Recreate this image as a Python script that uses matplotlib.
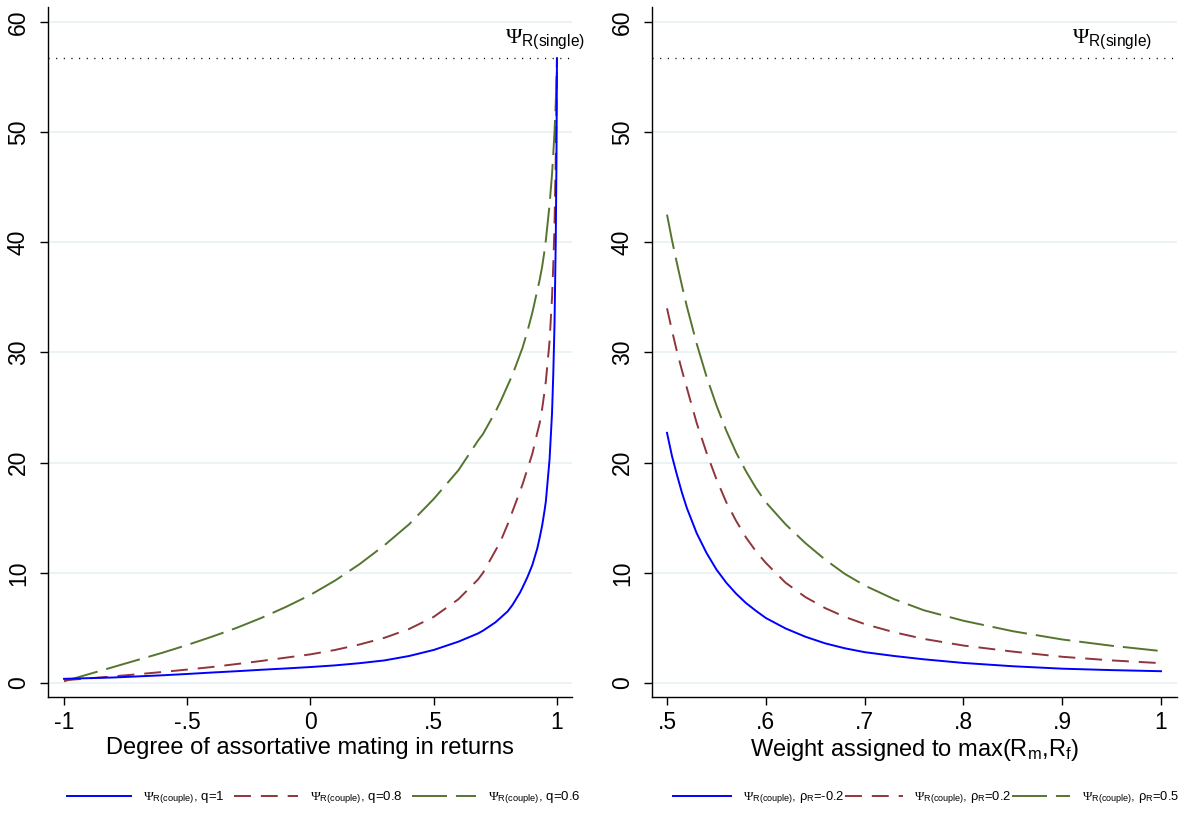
import matplotlib
matplotlib.use("Agg")
import matplotlib.pyplot as plt
from matplotlib.lines import Line2D

plt.rcParams.update({
    "font.family": ["Liberation Sans", "DejaVu Sans"],
    "mathtext.fontset": "custom",
    "mathtext.rm": "Liberation Serif",
    "mathtext.sf": "Liberation Sans",
    "mathtext.it": "Liberation Serif:italic",
    "axes.unicode_minus": False,
})

# left panel: degree of assortative mating in returns
rho = [-1.0, -0.9, -0.8, -0.7, -0.6, -0.5, -0.4, -0.3, -0.2, -0.1, 0.0, 0.1, 0.2,
       0.3, 0.4, 0.5, 0.6, 0.68, 0.7, 0.75, 0.77, 0.8, 0.82, 0.85, 0.86, 0.88,
       0.9, 0.92, 0.93, 0.94, 0.95, 0.955, 0.97, 0.98, 0.985, 0.99, 0.995,
       0.998, 1.0]
psi_q10 = [0.38, 0.44, 0.5, 0.6, 0.7, 0.82, 0.95, 1.07, 1.2, 1.32, 1.45, 1.6,
           1.8, 2.05, 2.45, 3.0, 3.75, 4.5, 4.75, 5.5, 5.9, 6.5, 7.1, 8.2, 8.65,
           9.6, 10.7, 12.2, 13.2, 14.3, 15.7, 16.5, 20.3, 24.5, 28.0, 32.5,
           40.0, 47.5, 56.7]
psi_q08 = [0.25, 0.42, 0.6, 0.8, 1.0, 1.22, 1.45, 1.72, 2.0, 2.3, 2.6, 3.0,
           3.5, 4.1, 4.9, 6.0, 7.6, 9.4, 10.0, 12.0, 12.8, 14.4, 15.6, 17.4,
           18.0, 19.4, 20.8, 22.7, 23.6, 24.9, 26.5, 27.4, 31.0, 35.0, 37.9,
           41.5, 47.5, 52.5, 56.7]
psi_q06 = [0.15, 0.8, 1.45, 2.1, 2.75, 3.45, 4.2, 5.0, 5.9, 6.9, 8.0, 9.3,
           10.8, 12.5, 14.4, 16.7, 19.3, 22.0, 22.6, 24.6, 25.5, 27.0, 28.0,
           29.8, 30.4, 31.9, 33.6, 35.6, 36.6, 37.8, 39.3, 40.2, 43.4, 46.2,
           48.0, 50.0, 52.6, 54.8, 56.7]

# right panel: weight assigned to max(Rm, Rf)
weight = [0.5, 0.505, 0.51, 0.515, 0.52, 0.53, 0.54, 0.55, 0.56, 0.57, 0.58,
          0.59, 0.6, 0.62, 0.64, 0.66, 0.68, 0.7, 0.73, 0.76, 0.8, 0.85, 0.9,
          0.95, 1.0]
psi_rho_m02 = [22.7, 20.6, 18.9, 17.3, 15.9, 13.6, 11.8, 10.3, 9.1, 8.1, 7.25,
               6.55, 5.9, 4.95, 4.2, 3.6, 3.15, 2.8, 2.45, 2.15, 1.82, 1.52,
               1.3, 1.17, 1.07]
psi_rho_02 = [34.0, 32.0, 30.1, 28.4, 26.8, 23.6, 20.9, 18.5, 16.4, 14.7, 13.2,
              11.95, 10.9, 9.1, 7.8, 6.8, 6.0, 5.35, 4.6, 4.0, 3.4, 2.85, 2.38,
              2.05, 1.8]
psi_rho_05 = [42.5, 40.2, 38.1, 36.1, 34.2, 30.8, 27.8, 25.2, 22.9, 20.9, 19.2,
              17.7, 16.4, 14.4, 12.7, 11.2, 9.9, 8.85, 7.6, 6.6, 5.65, 4.7,
              3.95, 3.38, 2.9]

psi_single = 56.7
yticks = [0, 10, 20, 30, 40, 50, 60]
left_xticks = [-1, -0.5, 0, 0.5, 1]
left_xlabels = ["-1", "-.5", "0", ".5", "1"]
right_xticks = [0.5, 0.6, 0.7, 0.8, 0.9, 1.0]
right_xlabels = [".5", ".6", ".7", ".8", ".9", "1"]

BLUE = "#0000FF"
MAROON = "#90353B"
GREEN = "#55752F"
GRID = "#EAF2F3"
LW = 1.4
STYLE_RED = (0, (8.7, 5.1))
STYLE_GREEN = (0, (18, 4.6))

W, H = 1195, 813
fig = plt.figure(figsize=(W / 100, H / 100), dpi=100)
ax1 = fig.add_axes([48 / W, 1 - 697 / H, (572 - 48) / W, (697 - 7) / H])
ax2 = fig.add_axes([652 / W, 1 - 697 / H, (1177 - 652) / W, (697 - 7) / H])


def style_axis(ax, xticks, xlabels, xlim, xlabel):
    ax.set_xlim(*xlim)
    ax.set_ylim(-1.27, 61.34)
    ax.set_yticks(yticks)
    ax.set_yticklabels([str(t) for t in yticks])
    ax.set_xticks(xticks)
    ax.set_xticklabels(xlabels)
    for t in yticks:
        ax.axhline(t, color=GRID, lw=1.3, zorder=0)
    for s in ["top", "right"]:
        ax.spines[s].set_visible(False)
    for s in ["left", "bottom"]:
        ax.spines[s].set_linewidth(1.0)
    ax.tick_params(axis="y", labelrotation=90, length=6, width=1.0, pad=7,
                   labelsize=16.5)
    ax.tick_params(axis="x", length=6, width=1.0, pad=4, labelsize=16.5)
    for lbl in ax.get_yticklabels():
        lbl.set_va("center")
    ax.set_xlabel(xlabel, fontsize=17, labelpad=2)
    ax.axhline(psi_single, color="black", lw=1.0, linestyle=(0, (0.8, 4.7)),
               zorder=1)
    ax.text(0.95, 58.4, r"$\mathrm{\Psi}_{\mathsf{R(single)}}$", ha="center",
            va="center", fontsize=16)


style_axis(ax1, left_xticks, left_xlabels, (-1.065, 1.061),
           "Degree of assortative mating in returns")
style_axis(ax2, right_xticks, right_xlabels, (0.4848, 1.0162),
           r"Weight assigned to max(R$_{\mathsf{m}}$,R$_{\mathsf{f}}$)")

ax1.plot(rho, psi_q06, color=GREEN, lw=LW, linestyle=STYLE_GREEN, zorder=3)
ax1.plot(rho, psi_q08, color=MAROON, lw=LW, linestyle=STYLE_RED, zorder=3)
ax1.plot(rho, psi_q10, color=BLUE, lw=LW, zorder=4)

ax2.plot(weight, psi_rho_05, color=GREEN, lw=LW, linestyle=STYLE_GREEN, zorder=3)
ax2.plot(weight, psi_rho_02, color=MAROON, lw=LW, linestyle=STYLE_RED, zorder=3)
ax2.plot(weight, psi_rho_m02, color=BLUE, lw=LW, zorder=4)

psi_c = r"$\mathrm{\Psi}_{\mathsf{R(couple)}}$"
handles = [
    Line2D([], [], color=BLUE, lw=LW),
    Line2D([], [], color=MAROON, lw=LW, linestyle=STYLE_RED),
    Line2D([], [], color=GREEN, lw=LW, linestyle=STYLE_GREEN),
]
left_labels = [psi_c + ", q=1", psi_c + ", q=0.8", psi_c + ", q=0.6"]
right_labels = [psi_c + r", ρ$_{\mathsf{R}}$=-0.2", psi_c + r", ρ$_{\mathsf{R}}$=0.2",
                psi_c + r", ρ$_{\mathsf{R}}$=0.5"]

fig.legend(handles, left_labels, loc="center", bbox_to_anchor=(324 / W, 1 - 798 / H),
           ncol=3, frameon=False, fontsize=9.5, handlelength=4.85,
           handletextpad=0.9, columnspacing=0.7)
fig.legend(handles, right_labels, loc="center", bbox_to_anchor=(926 / W, 1 - 798 / H),
           ncol=3, frameon=False, fontsize=9.3, handlelength=4.5,
           handletextpad=0.9, columnspacing=0.05)

fig.savefig("out.png", dpi=100)
